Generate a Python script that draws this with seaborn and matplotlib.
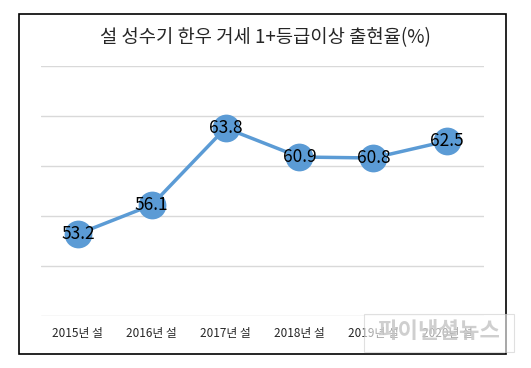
import matplotlib
matplotlib.use("Agg")
import matplotlib.pyplot as plt
import seaborn as sns
import pandas as pd
from matplotlib.patches import Rectangle

# data
years = ["2015년 설", "2016년 설", "2017년 설", "2018년 설", "2019년 설", "2020년 설"]
rates = [53.2, 56.1, 63.8, 60.9, 60.8, 62.5]
df = pd.DataFrame({"year": years, "rate": rates})

sns.set_style("white")
plt.rcParams['font.family'] = ['Noto Sans CJK KR', 'DejaVu Sans']

fig = plt.figure(figsize=(5.31, 3.68), dpi=100)
ax = fig.add_axes([41 / 531, 52 / 368, 443 / 531, 250 / 368])

blue = "#5B9BD5"
sns.lineplot(data=df, x="year", y="rate", ax=ax, color=blue, linewidth=2.5,
             marker="o", markersize=20, markeredgewidth=0, sort=False)

# value labels on the markers
for i, v in enumerate(rates):
    ax.text(i, v, f"{v}", ha="center", va="center", fontsize=12.5,
            fontweight="medium", color="black")

ax.set_xlim(-0.5, len(years) - 0.5)
ax.set_ylim(45, 70)
ax.set_yticks([45, 50, 55, 60, 65, 70])
ax.set_yticklabels([])
ax.tick_params(axis="y", length=0)
ax.tick_params(axis="x", length=0, labelsize=8.5, pad=8)
ax.grid(axis="y", color="#d9d9d9", linewidth=1)
ax.set_axisbelow(True)
for s in ax.spines.values():
    s.set_visible(False)
ax.set_xlabel("")
ax.set_ylabel("")

fig.text(0.5, 1 - 38 / 368, "설 성수기 한우 거세 1+등급이상 출현율(%)",
         ha="center", va="center", fontsize=13.5, fontweight="medium")

# outer frame
fig.add_artist(Rectangle((19 / 531, 1 - 354 / 368), 487 / 531, 340 / 368,
                         transform=fig.transFigure, fill=False,
                         edgecolor="black", linewidth=1.2))

# watermark
fig.add_artist(Rectangle((364 / 531, 1 - 352 / 368), 150 / 531, 38 / 368,
                         transform=fig.transFigure, facecolor="white",
                         alpha=0.6, edgecolor="#cccccc", linewidth=0.8))
fig.text(439 / 531, 1 - 331 / 368, "파이낸셜뉴스", ha="center", va="center",
         fontsize=16, fontweight="bold", color="#c4c4c4", alpha=0.8)

fig.savefig("out.png", dpi=100)
